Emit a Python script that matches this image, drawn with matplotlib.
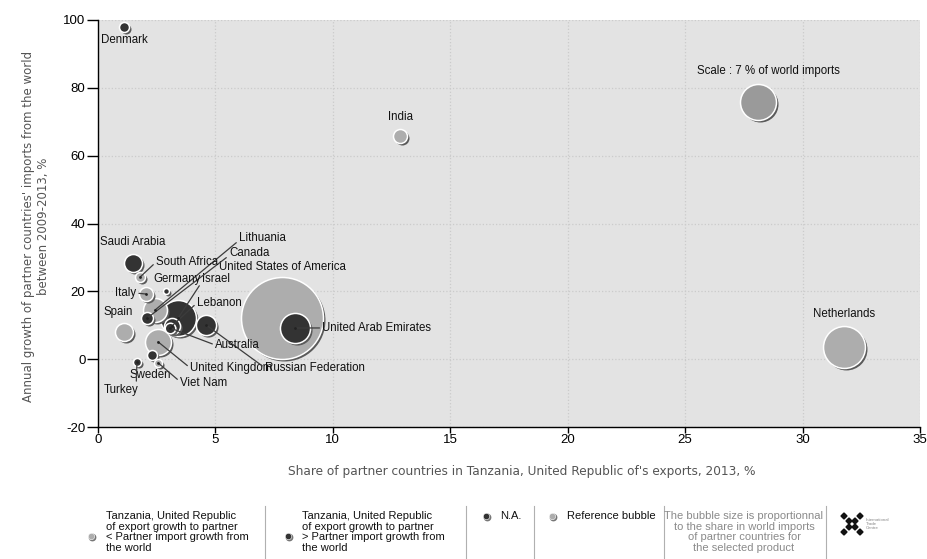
import matplotlib
matplotlib.use("Agg")
import matplotlib.pyplot as plt
from matplotlib import font_manager
from matplotlib.patches import Polygon
from matplotlib.lines import Line2D
import numpy as np

plt.rcParams["axes.unicode_minus"] = False

# ---------------------------------------------------------------- data
names = ["United States of America", "Netherlands", "Scale : 7 % of world imports",
         "Israel", "United Arab Emirates", "United Kingdom", "Lithuania",
         "Russian Federation", "Saudi Arabia", "Spain", "Lebanon", "India",
         "Italy", "Canada", "Australia", "South Africa", "Sweden", "Denmark",
         "Turkey", "Viet Nam", "Germany"]
# share of partner in Tanzania's exports, 2013 (%)
export_share = [7.84, 31.76, 28.09, 3.41, 8.40, 2.56, 2.43, 4.60, 1.49, 1.11, 3.15,
                12.87, 2.05, 2.09, 3.07, 1.79, 2.30, 1.11, 1.66, 2.56, 2.90]
# annual growth of partner imports from the world, 2009-2013 (%)
import_growth = [12.1, 3.6, 75.8, 12.1, 9.2, 5.1, 14.5, 10.1, 28.4, 8.0, 9.8,
                 65.8, 19.2, 12.1, 9.2, 24.2, 1.2, 97.9, -0.8, -1.1, 20.1]
# share of partner in world imports (bubble size, %)
world_share = [36.3, 9.5, 7.0, 7.0, 4.9, 3.65, 3.1, 2.2, 1.75, 1.75, 1.4,
               1.06, 1.06, 0.78, 0.6, 0.54, 0.54, 0.54, 0.35, 0.35, 0.19]
# 'low': export growth < partner import growth, 'high': export growth >, 'ref'
group = ["low", "low", "ref", "high", "high", "low", "low", "high", "high", "low", "high",
         "low", "low", "high", "high", "low", "high", "high", "high", "low", "high"]

# label placement: offset in pixels from bubble centre, alignment, leader line
label_dx = [0, 0, 11, 24, 27, 32, 84, 59, 0, -6, 25, 0, -10, 82, 45, 16, -2, 0, 1, 22, -13]
label_dy = [51, 33, 31, 39, 0, -26, 72, -43, 21, 20, 23, 19, 1, 65, -17, 15, -20, -13, -28, -20, 12]
label_ha = ["center", "center", "center", "left", "left", "left", "left", "left", "center",
            "center", "left", "center", "right", "left", "left", "left", "center", "center",
            "right", "left", "left"]
leader = [False, False, False, True, True, True, True, True, False, False, True, False,
          True, True, True, True, False, False, True, True, False]

x_ticks = [0, 5, 10, 15, 20, 25, 30, 35]
y_ticks = [-20, 0, 20, 40, 60, 80, 100]

colors = {"low": "#adadad", "high": "#333333", "ref": "#9a9a9a"}

# ---------------------------------------------------------------- fonts
avail = {f.name for f in font_manager.fontManager.ttflist}


def pick(*fams):
    for f in fams:
        if f in avail:
            return f
    return "DejaVu Sans"


NARROW = pick("Liberation Sans Narrow", "Liberation Sans", "Arimo")
WIDE = pick("DejaVu Sans")

W, H, DPI = 927, 559, 100
fig = plt.figure(figsize=(W / DPI, H / DPI), dpi=DPI)
fig.patch.set_facecolor("white")


def fx(px):
    return px / W


def fy(py):
    return 1 - py / H


ax = fig.add_axes([fx(98), fy(427), (920 - 98) / W, (427 - 20) / H])
ax.set_facecolor("#e3e3e3")
ax.set_xlim(0, 35)
ax.set_ylim(-20, 100)
ax.set_xticks(x_ticks)
ax.set_yticks(y_ticks)
ax.grid(True, color="#cbcbcb", linestyle=":", linewidth=0.9)
ax.set_axisbelow(True)
for s in ("top", "right"):
    ax.spines[s].set_visible(False)
for s in ("left", "bottom"):
    ax.spines[s].set_color("black")
    ax.spines[s].set_linewidth(1.0)
ax.tick_params(axis="y", length=8, width=1, direction="out", pad=1, labelsize=9.5)
ax.tick_params(axis="x", length=4, width=1, direction="out", pad=1, labelsize=9.5)
for lab in ax.get_xticklabels() + ax.get_yticklabels():
    lab.set_fontfamily(NARROW)

REF_R_PX = 18.0   # radius in pixels of a 7 % bubble
REF_SHARE = 7.0


def marker_area(share):
    r_px = REF_R_PX * np.sqrt(share / REF_SHARE)
    d_pt = 2 * r_px * 72 / DPI
    return d_pt ** 2


shadow_tf = matplotlib.transforms.offset_copy(ax.transData, fig=fig, x=2, y=-2, units="dots")

order = np.argsort(world_share, kind="stable")[::-1]
z = 3
for i in order:
    area = marker_area(world_share[i])
    ax.scatter([export_share[i]], [import_growth[i]], s=area, color="#5a5a5a",
               transform=shadow_tf, linewidths=0, zorder=z)
    ax.scatter([export_share[i]], [import_growth[i]], s=area, color=colors[group[i]],
               edgecolors="white", linewidths=1.1, zorder=z + 1)
    z += 2

LABEL_FS = 8.3

# labels and leader lines
for i, name in enumerate(names):
    if leader[i]:
        rel = (1.0, 0.5) if label_ha[i] == "right" else (0.0, 0.5)
        if name == "Turkey":
            rel = (0.95, 1.0)
        if name in ("Lithuania", "Canada", "Israel"):
            rel = (0.0, 0.3)
        if name == "Viet Nam":
            rel = (0.0, 0.6)
        ax.annotate(name, (export_share[i], import_growth[i]),
                    xytext=(label_dx[i], label_dy[i]), textcoords="offset pixels",
                    ha=label_ha[i], va="center", fontsize=LABEL_FS, family=NARROW,
                    color="#111111", zorder=100,
                    arrowprops=dict(arrowstyle="-", color="#3c3c3c", lw=0.9,
                                    shrinkA=0, shrinkB=0, relpos=rel))
        ax.scatter([export_share[i]], [import_growth[i]], s=4, color="#222222",
                   zorder=101, linewidths=0)
    else:
        ax.annotate(name, (export_share[i], import_growth[i]),
                    xytext=(label_dx[i], label_dy[i]), textcoords="offset pixels",
                    ha=label_ha[i], va="center", fontsize=LABEL_FS, family=NARROW,
                    color="#111111", zorder=100)

# axis titles
fig.text(fx(522), fy(472), "Share of partner countries in Tanzania, United Republic of's exports, 2013, %",
         ha="center", va="center", fontsize=8.7, family=WIDE, color="#555555")
fig.text(fx(36), fy(226), "Annual growth of partner countries' imports from the world\nbetween 2009-2013, %",
         ha="center", va="center", rotation=90, fontsize=8.5, family=WIDE, color="#555555",
         linespacing=1.2)

# ---------------------------------------------------------------- legend strip
leg_fs = 8
TOP = 511


def leg_dot(px, py, color):
    fig.add_artist(Line2D([fx(px + 1.2)], [fy(py + 1.2)], marker="o", markersize=4.6,
                          color="#777777", linestyle="none"))
    fig.add_artist(Line2D([fx(px)], [fy(py)], marker="o", markersize=4.6, color=color,
                          markeredgecolor="white", markeredgewidth=0.4, linestyle="none"))


def sep(px):
    fig.add_artist(Line2D([fx(px), fx(px)], [fy(506), fy(559)], color="#b0b0b0", lw=0.8))


leg_dot(91, 536, colors["low"])
fig.text(fx(106), fy(TOP), "Tanzania, United Republic\nof export growth to partner\n< Partner import growth from\nthe world",
         ha="left", va="top", fontsize=leg_fs, family=NARROW, color="#111111", linespacing=1.08)
sep(265)
leg_dot(288, 536, colors["high"])
fig.text(fx(302), fy(TOP), "Tanzania, United Republic\nof export growth to partner\n> Partner import growth from\nthe world",
         ha="left", va="top", fontsize=leg_fs, family=NARROW, color="#111111", linespacing=1.08)
sep(466)
leg_dot(486, 516, colors["high"])
fig.text(fx(500), fy(TOP), "N.A.", ha="left", va="top", fontsize=leg_fs, family=NARROW, color="#111111")
sep(534)
leg_dot(552, 516, colors["low"])
fig.text(fx(567), fy(TOP), "Reference bubble", ha="left", va="top", fontsize=leg_fs,
         family=NARROW, color="#111111")
sep(664)
fig.text(fx(744), fy(TOP), "The bubble size is proportionnal\nto the share in world imports\nof partner countries for\nthe selected product",
         ha="center", va="top", fontsize=leg_fs, family=NARROW, color="#8a8a8a", linespacing=1.08)
sep(826)

# small trade-centre emblem
cx, cy = 852, 524
strokes = [(-8, -8), (-3, -3), (3, 3), (8, 8), (-8, 8), (-3, 3), (3, -3), (8, -8)]
for dx, dy in strokes:
    px0, py0 = cx + dx, cy + dy
    pts = [(fx(px0 - 3), fy(py0)), (fx(px0), fy(py0 - 3)), (fx(px0 + 3), fy(py0)), (fx(px0), fy(py0 + 3))]
    fig.add_artist(Polygon(pts, closed=True, color="#111111"))
fig.text(fx(866), fy(524), "International\nTrade\nCentre", ha="left", va="center",
         fontsize=3.2, family=NARROW, color="#888888", linespacing=1.0)

fig.savefig("out.png", dpi=DPI, facecolor="white")
